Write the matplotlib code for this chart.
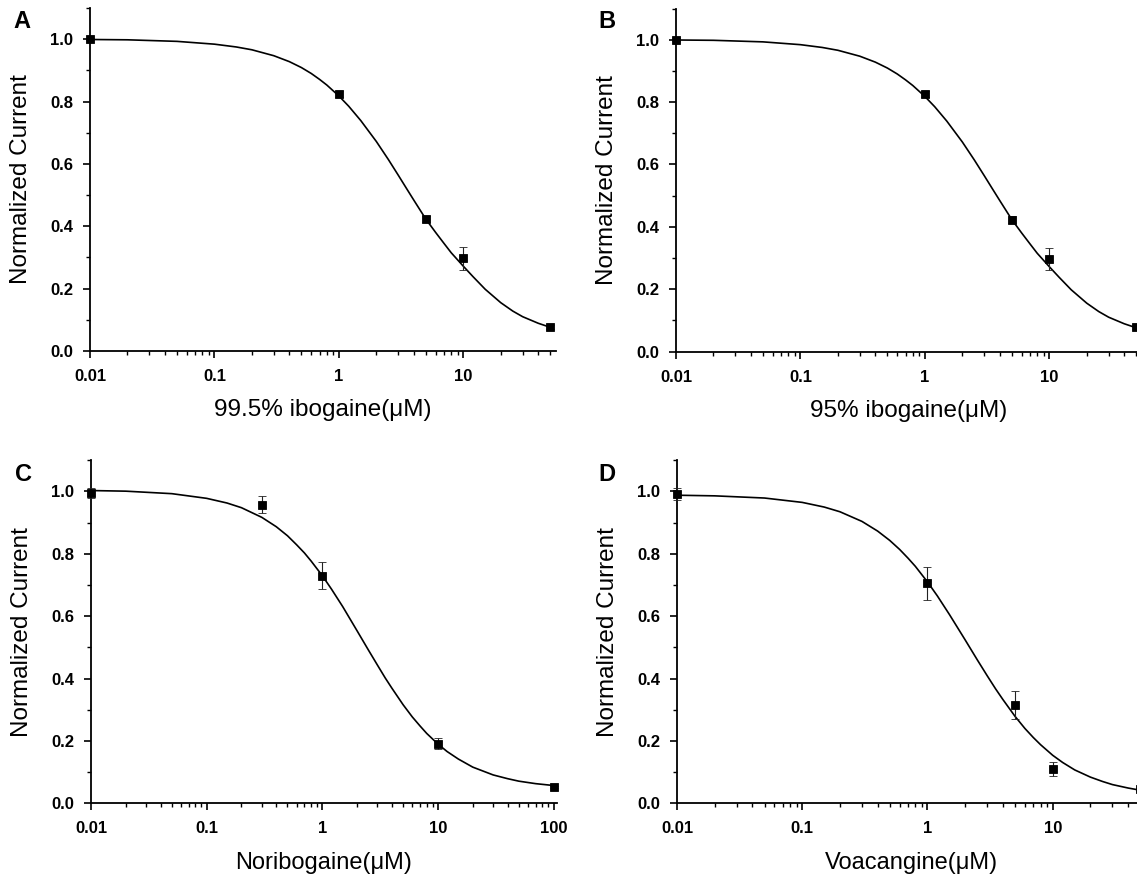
import matplotlib
matplotlib.use("Agg")
import matplotlib.pyplot as plt
from matplotlib.ticker import FixedLocator, LogLocator, MultipleLocator, NullFormatter

plt.rcParams["font.family"] = ["Liberation Sans", "DejaVu Sans"]

# measured points (concentration in uM, normalized current, s.e.m.)
conc_a = [0.01, 1, 5, 10, 50]
resp_a = [1.0, 0.825, 0.423, 0.297, 0.077]
err_a = [0.004, 0.010, 0.010, 0.036, 0.005]

conc_b = [0.01, 1, 5, 10, 50]
resp_b = [1.0, 0.825, 0.423, 0.297, 0.077]
err_b = [0.004, 0.010, 0.010, 0.036, 0.005]

conc_c = [0.01, 0.3, 1, 10, 100]
resp_c = [0.995, 0.957, 0.730, 0.191, 0.052]
err_c = [0.015, 0.027, 0.044, 0.018, 0.004]

conc_d = [0.01, 1, 5, 10, 50]
resp_d = [0.992, 0.705, 0.315, 0.110, 0.045]
err_d = [0.018, 0.052, 0.044, 0.023, 0.005]

# fitted dose-response curves
fit_x = [0.01, 0.02, 0.05, 0.1, 0.15, 0.2, 0.3, 0.4, 0.5, 0.6, 0.7, 0.8, 1, 1.2,
         1.5, 2, 2.5, 3, 3.5, 4, 5, 6, 7, 8, 10, 12, 15, 20, 25, 30, 40, 50]
fit_a = [0.999, 0.998, 0.993, 0.984, 0.975, 0.966, 0.947, 0.928, 0.909, 0.890,
         0.871, 0.853, 0.818, 0.785, 0.739, 0.672, 0.614, 0.564, 0.521, 0.484,
         0.423, 0.380, 0.345, 0.315, 0.272, 0.238, 0.198, 0.155, 0.128, 0.110,
         0.089, 0.076]
fit_b = fit_a
fit_d = [0.988, 0.986, 0.979, 0.965, 0.950, 0.935, 0.904, 0.873, 0.843, 0.814,
         0.786, 0.760, 0.710, 0.665, 0.605, 0.524, 0.460, 0.409, 0.367, 0.333,
         0.279, 0.240, 0.211, 0.188, 0.154, 0.131, 0.107, 0.084, 0.070, 0.060,
         0.049, 0.042]
fit_x_c = [0.01, 0.02, 0.05, 0.1, 0.15, 0.2, 0.3, 0.4, 0.5, 0.6, 0.7, 0.8, 1,
           1.2, 1.5, 2, 2.5, 3, 3.5, 4, 5, 6, 7, 8, 10, 12, 15, 20, 30, 40, 50,
           70, 100]
fit_c = [1.003, 1.001, 0.993, 0.978, 0.963, 0.948, 0.917, 0.887, 0.858, 0.829,
         0.803, 0.777, 0.730, 0.687, 0.631, 0.553, 0.492, 0.443, 0.402, 0.369,
         0.316, 0.277, 0.248, 0.224, 0.190, 0.166, 0.142, 0.116, 0.091, 0.079,
         0.071, 0.063, 0.057]

xticks_short = [0.01, 0.1, 1, 10]
xlabels_short = ["0.01", "0.1", "1", "10"]
xticks_long = [0.01, 0.1, 1, 10, 100]
xlabels_long = ["0.01", "0.1", "1", "10", "100"]
yticks = [0.0, 0.2, 0.4, 0.6, 0.8, 1.0]
ylabels = ["0.0", "0.2", "0.4", "0.6", "0.8", "1.0"]

W, H = 1137, 875
fig = plt.figure(figsize=(W / 100, H / 100), dpi=100)


def make_axes(left, bottom, width):
    # pixel geometry -> figure fractions
    return fig.add_axes([left / W, 1 - bottom / H, width / W, 343 / H])


def panel(ax, cx, cy, ce, fx, fy, xmax, xt, xl, xlabel, xlabel_size, letter, lx, ly):
    ax.plot(fx, fy, color="black", lw=1.2, clip_on=False, zorder=2,
            solid_joinstyle="round")
    ax.errorbar(cx, cy, yerr=ce, fmt="s", color="black", ms=5.2, mew=0.6,
                ecolor="#222222", elinewidth=0.8, capsize=3, capthick=0.8,
                clip_on=False, zorder=3)
    ax.set_xscale("log")
    ax.set_xlim(0.01, xmax)
    ax.set_ylim(0, 1.1)
    ax.xaxis.set_major_locator(FixedLocator(xt))
    ax.set_xticklabels(xl)
    ax.xaxis.set_minor_locator(LogLocator(base=10, subs=range(2, 10), numticks=20))
    ax.xaxis.set_minor_formatter(NullFormatter())
    ax.set_yticks(yticks)
    ax.set_yticklabels(ylabels)
    ax.yaxis.set_minor_locator(MultipleLocator(0.1))
    for s in ["top", "right"]:
        ax.spines[s].set_visible(False)
    for s in ["left", "bottom"]:
        ax.spines[s].set_linewidth(1.3)
    ax.tick_params(which="major", direction="out", length=5, width=1.2,
                   labelsize=12, pad=7)
    ax.tick_params(which="minor", direction="out", length=3, width=1.0)
    for t in ax.get_xticklabels() + ax.get_yticklabels():
        t.set_fontweight("bold")
    ax.tick_params(axis="x", which="major", pad=8)
    ax.set_ylabel("Normalized Current", fontsize=17.5, labelpad=13)
    ax.set_xlabel(xlabel, fontsize=xlabel_size, labelpad=11)
    fig.text(lx / W, 1 - ly / H, letter, fontsize=17, fontweight="bold",
             ha="center", va="center")


ax_a = make_axes(90, 351, 466)
panel(ax_a, conc_a, resp_a, err_a, fit_x, fit_a, 55.6, xticks_short, xlabels_short,
      "99.5% ibogaine(\u03bcM)", 17.5, "A", 22, 22)

ax_b = make_axes(676, 351.5, 466)
panel(ax_b, conc_b, resp_b, err_b, fit_x, fit_b, 55.6, xticks_short, xlabels_short,
      "95% ibogaine(\u03bcM)", 17.5, "B", 607, 21)

ax_c = make_axes(91, 803.3, 466)
panel(ax_c, conc_c, resp_c, err_c, fit_x_c, fit_c, 107, xticks_long, xlabels_long,
      "Noribogaine(\u03bcM)", 17, "C", 23, 475)

ax_d = make_axes(677, 803.3, 469)
panel(ax_d, conc_d, resp_d, err_d, fit_x, fit_d, 55.6, xticks_short, xlabels_short,
      "Voacangine(\u03bcM)", 17, "D", 607, 475)

fig.savefig("out.png", dpi=100)
